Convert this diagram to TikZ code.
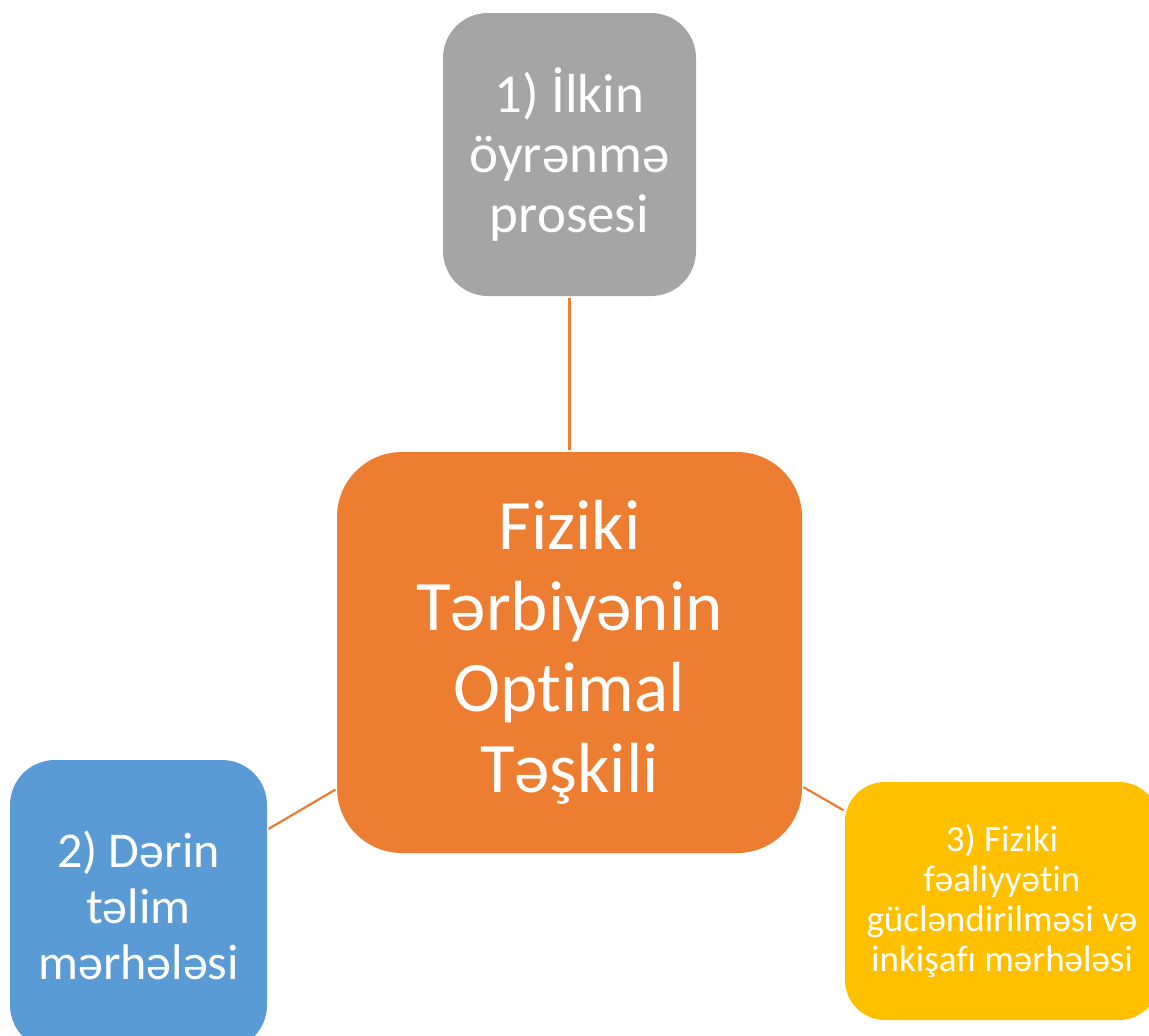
\documentclass[tikz,border=0pt]{standalone}
\usepackage{fontspec}
\setmainfont[Ligatures=CommonOff]{Carlito}
\definecolor{cgray}{HTML}{A5A5A5}
\definecolor{corange}{HTML}{ED7D31}
\definecolor{cblue}{HTML}{5B9BD5}
\definecolor{cyellow}{HTML}{FFC000}
\begin{document}
\begin{tikzpicture}[x=1pt,y=-1pt,
  box/.style={rectangle, inner sep=0pt, text=white, align=center, anchor=center},
  link/.style={draw=corange, line width=2.2pt, shorten <=1.5pt, shorten >=1.5pt}]
\useasboundingbox (0,0) rectangle (1149,1036);
\clip (0,0) rectangle (1149,1036);
\node[box, fill=cgray, rounded corners=45pt, minimum width=253pt, minimum height=283pt,
  font=\fontsize{55}{60}\selectfont] (g) at (569.5,154.5) {1) İlkin\\öyrənmə\\prosesi};
\node[box, fill=corange, rounded corners=65pt, minimum width=465pt, minimum height=401pt,
  font=\fontsize{71}{81}\selectfont] (o) at (569.5,652.5) {Fiziki\\Tərbiyənin\\Optimal\\Təşkili};
\node[box, fill=cblue, rounded corners=45pt, minimum width=257pt, minimum height=290pt,
  font=\fontsize{50}{56}\selectfont] (b) at (138.5,905) {2) Dərin\\təlim\\mərhələsi};
\node[box, fill=cyellow, rounded corners=40pt, minimum width=314pt, minimum height=238pt,
  font=\fontsize{37}{40}\selectfont] (y) at (1002,901) {3) Fiziki\\fəaliyyətin\\gücləndirilməsi və\\inkişafı mərhələsi};
\draw[link] (g) -- (o);
\draw[link] (b) -- (o);
\draw[link] (o) -- (y);
\end{tikzpicture}
\end{document}
